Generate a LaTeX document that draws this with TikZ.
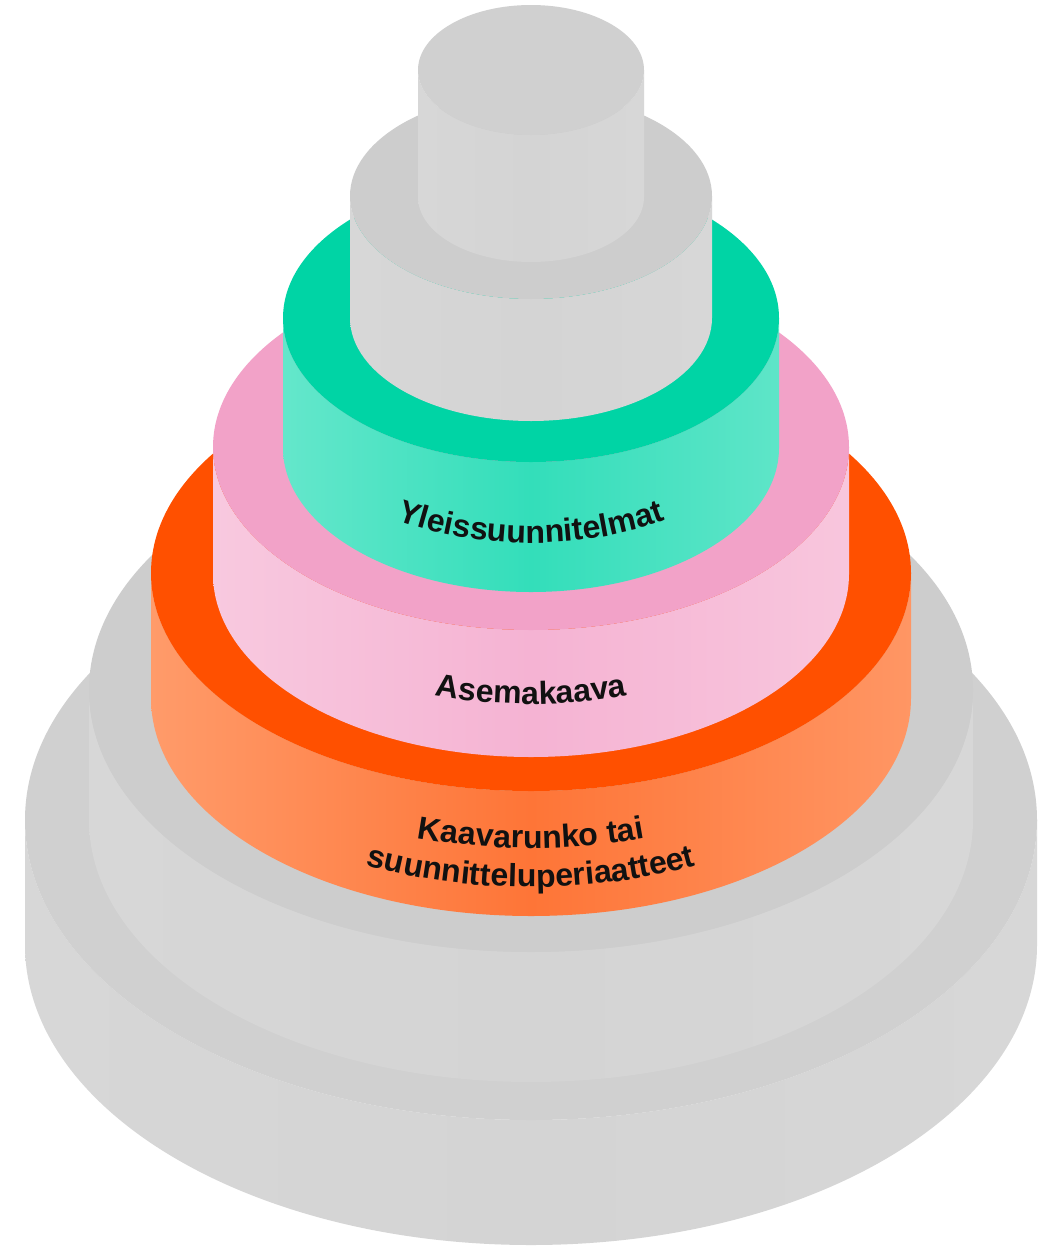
\documentclass[tikz,border=0pt]{standalone}
\usepackage{fontspec}
\setmainfont{Liberation Sans}
\usetikzlibrary{decorations.text}
\definecolor{txt}{HTML}{111111}
\newcommand{\lbl}{\fontsize{32}{32}\selectfont\bfseries\color{txt}}
% cx, rx, ry, top y (image), bottom y (image), top colour, side left, side middle, side right
\newcommand{\cylinder}[9]{%
  \shade[left color=#7, right color=#9, middle color=#8]
    (#1-#2,-#5) arc[start angle=180,end angle=360,x radius=#2,y radius=#3]
    -- (#1+#2,-#4) arc[start angle=360,end angle=180,x radius=#2,y radius=#3] -- cycle;
  \fill[#6] (#1,-#4) ellipse[x radius=#2,y radius=#3];
}
\newcommand{\arctext}[5]{% cx, centre y (image), rx, ry, text
  \path[decorate, decoration={text along path, text align=center, text={|\lbl|#5}}]
    ([shift={(#1,-#2)}]200:#3 and #4) arc[start angle=200,end angle=340,x radius=#3,y radius=#4];
}
\definecolor{gTopA}{HTML}{D0D0D0}
\definecolor{gSideA}{HTML}{D7D7D7}
\definecolor{gSideB}{HTML}{D4D4D4}
\definecolor{gTopB}{HTML}{CDCDCD}
\definecolor{orTop}{HTML}{FF5000}
\definecolor{orL}{HTML}{FF9B6A}
\definecolor{orM}{HTML}{FE7537}
\definecolor{orR}{HTML}{FF9664}
\definecolor{piTop}{HTML}{F2A2C8}
\definecolor{piL}{HTML}{F8C9DF}
\definecolor{piM}{HTML}{F5B3D3}
\definecolor{piR}{HTML}{F8C6DD}
\definecolor{grTop}{HTML}{00D4A5}
\definecolor{grL}{HTML}{64E7CB}
\definecolor{grM}{HTML}{33DEBA}
\definecolor{grR}{HTML}{5EE5C8}
\begin{document}
\begin{tikzpicture}[x=1pt,y=1pt]
\useasboundingbox (0,0) rectangle (1047,-1250);
\fill[white] (0,0) rectangle (1047,-1250);
% bottom gray
\cylinder{531}{506}{300}{820}{945}{gTopA}{gSideA}{gSideB}{gSideA}
% second gray
\cylinder{531}{442}{262}{690}{820}{gTopB}{gSideA}{gSideB}{gSideA}
% orange
\cylinder{531}{380}{218}{573}{698}{orTop}{orL}{orM}{orR}
% pink
\cylinder{531}{318}{183}{447}{574}{piTop}{piL}{piM}{piR}
% green
\cylinder{531}{248}{144}{318}{448}{grTop}{grL}{grM}{grR}
% upper grays
\cylinder{531}{181}{103}{196}{318}{gTopB}{gSideA}{gSideB}{gSideA}
\cylinder{531}{113}{65}{70}{197}{gTopA}{gSideA}{gSideB}{gSideA}
% labels
\arctext{531}{399}{248}{144}{Yleissuunnitelmat}
\arctext{531}{521}{318}{183}{Asemakaava}
\arctext{531}{630}{380}{218}{Kaavarunko tai}
\arctext{531}{669}{380}{218}{suunnitteluperiaatteet}
\end{tikzpicture}
\end{document}
